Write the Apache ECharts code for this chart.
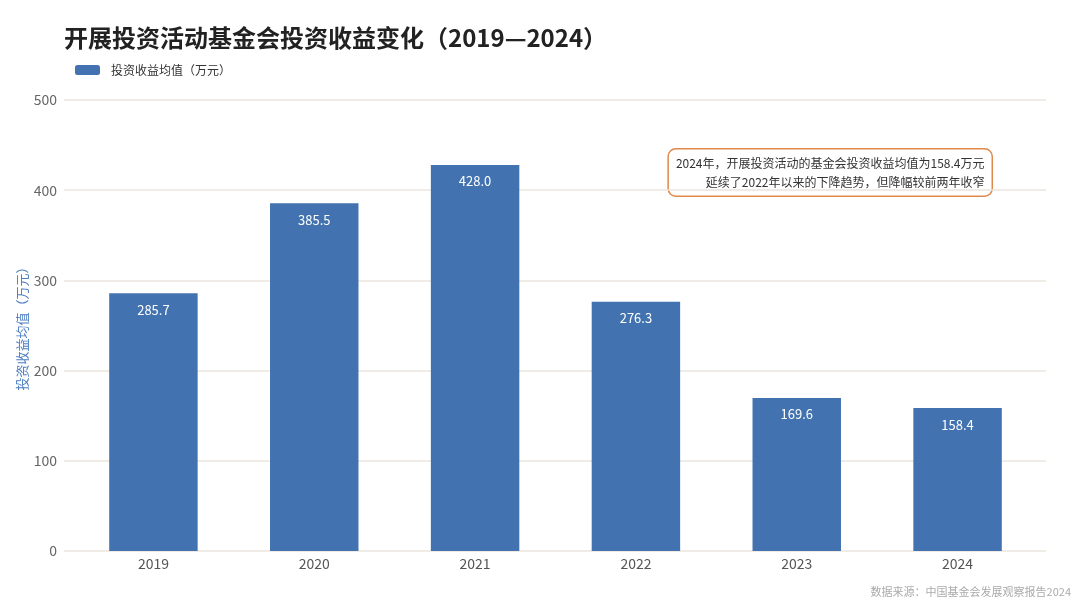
<!DOCTYPE html>
<html>
<head>
<meta charset="utf-8">
<script src="https://cdn.jsdelivr.net/npm/echarts@6/dist/echarts.min.js"></script>
<style>
html,body{margin:0;padding:0;background:#fff;}
#main{width:1080px;height:607px;}
</style>
</head>
<body>
<div id="main"></div>
<script>
// 数据
var years = ['2019', '2020', '2021', '2022', '2023', '2024'];
var avgIncome = [285.7, 385.5, 428.0, 276.3, 169.6, 158.4];
var seriesName = '投资收益均值（万元）';
var noteText = '2024年，开展投资活动的基金会投资收益均值为158.4万元\n延续了2022年以来的下降趋势，但降幅较前两年收窄';

var fontCN = '"PingFang SC","Noto Sans CJK SC","Noto Sans",sans-serif';

var myChart = echarts.init(document.getElementById('main'));
var option = {
    backgroundColor: '#fff',
    textStyle: {fontFamily: fontCN},
    title: {
        text: '开展投资活动基金会投资收益变化（2019—2024）',
        left: 59,
        top: 21,
        textStyle: {fontSize: 24, fontWeight: 'bold', color: '#222', fontFamily: fontCN}
    },
    legend: {
        data: [seriesName],
        left: 70,
        top: 59,
        itemWidth: 25,
        itemHeight: 10,
        textStyle: {fontSize: 12, color: '#333', padding: [0, 0, 0, 6]}
    },
    // grid 0 画网格线和y轴标签，grid 1 放柱子
    grid: [
        {left: 64, right: 34, top: 100, bottom: 56},
        {left: 73, right: 42, top: 100, bottom: 56}
    ],
    xAxis: [{
        gridIndex: 0,
        type: 'category',
        data: years,
        show: false
    }, {
        gridIndex: 1,
        type: 'category',
        data: years,
        axisLine: {show: false},
        axisTick: {show: false},
        axisLabel: {fontSize: 14, color: '#555', margin: 6}
    }],
    yAxis: [{
        gridIndex: 0,
        type: 'value',
        min: 0,
        max: 500,
        interval: 100,
        name: '投资收益均值（万元）',
        nameLocation: 'middle',
        nameGap: 35,
        nameMoveOverlap: false,
        nameTextStyle: {color: '#4a7cc0', fontSize: 13},
        axisLine: {show: false},
        axisTick: {show: false},
        axisLabel: {fontSize: 14, color: '#666', margin: 7},
        splitLine: {lineStyle: {color: '#ebe6dc', width: 1.5}}
    }, {
        gridIndex: 1,
        type: 'value',
        min: 0,
        max: 500,
        interval: 100,
        show: false,
        splitLine: {show: false}
    }],
    series: [{
        name: seriesName,
        type: 'bar',
        xAxisIndex: 1,
        yAxisIndex: 1,
        data: avgIncome,
        barWidth: '55%',
        itemStyle: {color: '#4273b0'},
        label: {
            show: true,
            position: 'insideTop',
            distance: 10,
            color: '#fff',
            fontSize: 13,
            formatter: function (p) { return p.value.toFixed(1); }
        }
    }],
    graphic: [{
        type: 'text',
        right: 87,
        top: 148,
        style: {
            text: noteText,
            textAlign: 'right',
            fontSize: 12,
            lineHeight: 19,
            fill: '#333',
            fontFamily: fontCN,
            backgroundColor: '#fff',
            borderColor: '#e0884a',
            borderWidth: 1.5,
            borderRadius: 7,
            padding: [4, 7, 4, 7]
        }
    }, {
        type: 'text',
        right: 9,
        top: 586,
        style: {
            text: '数据来源：中国基金会发展观察报告2024',
            fontSize: 11,
            fill: '#aaa',
            fontFamily: fontCN
        }
    }]
};
myChart.setOption(option);
</script>
</body>
</html>
